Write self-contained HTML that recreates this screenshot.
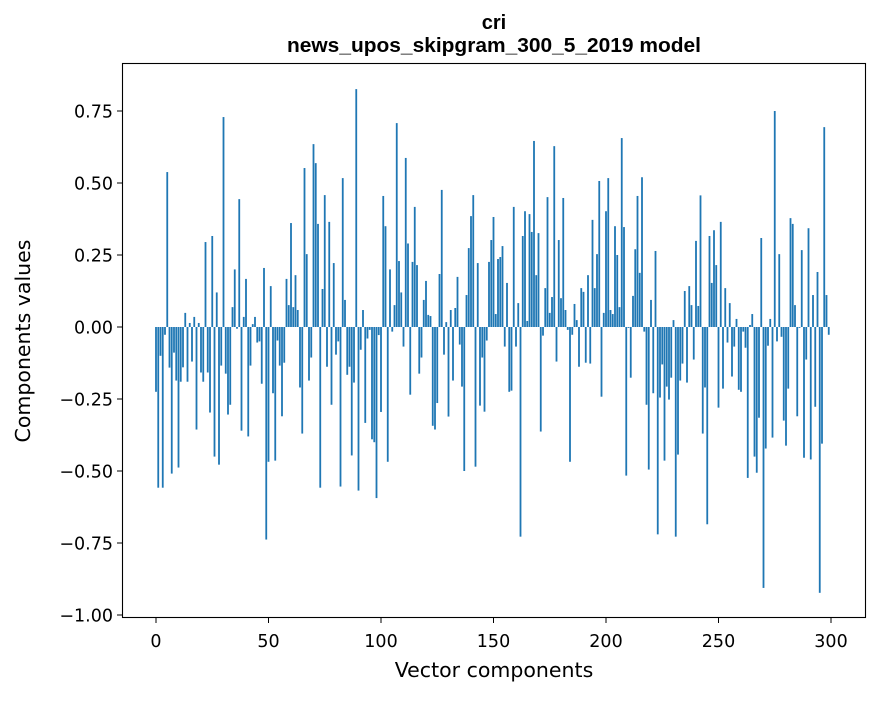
<!DOCTYPE html>
<html><head><meta charset="utf-8"><style>
body{margin:0;background:#fff;width:880px;height:696px;overflow:hidden}
svg text{font-family:"DejaVu Sans","Liberation Sans",sans-serif;fill:#000}
svg text.title{font-family:"Liberation Sans","DejaVu Sans",sans-serif;font-weight:bold}
</style></head><body>
<svg id="chart" width="880" height="696" viewBox="0 0 880 696" xmlns="http://www.w3.org/2000/svg">
<text class="title" x="494" y="29" text-anchor="middle" font-size="20">cri</text>
<text class="title" x="494" y="52" text-anchor="middle" font-size="20" textLength="414" lengthAdjust="spacingAndGlyphs">news_upos_skipgram_300_5_2019 model</text>
<g id="bars"></g>
<rect x="122.5" y="63.5" width="743" height="554" fill="none" stroke="#000" stroke-width="1.1"/>
<g id="xaxis"></g>
<g id="yaxis"></g>
<text x="494" y="677" text-anchor="middle" font-size="20.5">Vector components</text>
<text transform="translate(30,341) rotate(-90)" text-anchor="middle" font-size="20.5">Components values</text>
</svg>
<script>
const values=[-0.225,-0.558,-0.10,-0.558,-0.027,0.538,-0.141,-0.509,-0.089,-0.186,
-0.488,-0.19,-0.14,0.049,-0.19,0.014,-0.12,0.035,-0.356,0.014,
-0.158,-0.19,0.295,-0.158,-0.297,0.316,-0.45,0.12,-0.478,-0.134,
0.729,-0.162,-0.304,-0.27,0.069,0.20,-0.006,0.444,-0.36,0.035,
0.167,-0.38,-0.134,0.01,0.035,-0.054,-0.05,-0.197,0.205,-0.738,
-0.468,0.142,-0.23,-0.464,-0.047,-0.134,-0.31,-0.124,0.167,0.076,
0.361,0.069,0.18,0.059,-0.21,-0.37,0.552,0.253,-0.186,-0.106,
0.635,0.569,0.358,-0.558,0.132,0.458,-0.138,0.365,-0.27,0.222,
-0.096,-0.05,-0.554,0.517,0.094,-0.166,-0.138,-0.446,-0.193,0.826,
-0.568,-0.079,0.059,-0.333,-0.04,-0.01,-0.39,-0.40,-0.594,-0.028,
-0.295,0.455,0.35,-0.468,0.20,-0.016,0.076,0.708,0.229,0.12,
-0.068,0.587,0.29,-0.235,0.226,0.417,0.215,-0.162,-0.106,0.094,
0.16,0.042,0.038,-0.343,-0.356,-0.264,0.184,0.476,-0.096,0.017,
-0.311,0.059,-0.186,0.066,0.174,-0.061,-0.207,-0.5,0.111,0.274,
0.385,0.458,-0.485,0.222,-0.273,-0.106,-0.294,-0.047,0.226,0.302,
0.382,0.045,0.236,0.243,0.281,-0.068,0.153,-0.225,-0.221,0.417,
-0.068,0.083,-0.728,0.316,0.402,0.021,0.392,0.33,0.646,0.18,
0.326,-0.363,-0.03,0.135,0.451,0.049,0.104,0.628,-0.12,0.302,
0.10,0.448,0.059,-0.01,-0.468,-0.027,0.08,0.024,-0.138,0.135,
0.122,-0.124,0.18,-0.127,0.372,0.135,0.253,0.507,-0.242,0.049,
0.402,0.517,0.059,0.045,0.35,0.25,0.069,0.656,0.347,-0.516,
-0.003,-0.176,0.108,0.27,0.455,0.188,0.52,-0.016,-0.27,-0.495,
0.094,-0.23,0.264,-0.72,-0.245,-0.13,-0.464,-0.207,-0.252,-0.176,
0.024,-0.728,-0.443,-0.186,-0.127,0.125,-0.193,0.142,0.076,-0.113,
0.299,0.073,0.457,-0.37,-0.21,-0.685,0.316,0.153,0.336,0.215,
-0.28,0.365,-0.214,0.135,-0.054,0.083,-0.172,-0.068,0.028,-0.218,
-0.225,-0.016,-0.072,-0.524,0.007,0.045,-0.45,-0.506,-0.315,0.309,
-0.906,-0.422,-0.065,0.028,-0.384,0.75,-0.05,0.253,-0.034,-0.325,
-0.412,-0.214,0.378,0.358,0.076,-0.31,-0.003,0.267,-0.454,-0.113,
0.343,-0.46,0.111,-0.277,0.191,-0.923,-0.405,0.694,0.111,-0.027];
const xTicks=[0,50,100,150,200,250,300];
const yTicks=[-1.0,-0.75,-0.5,-0.25,0,0.25,0.5,0.75];
const yTickLabels=["\u22121.00","\u22120.75","\u22120.50","\u22120.25","0.00","0.25","0.50","0.75"];
const NS='http://www.w3.org/2000/svg';
const xs=v=>156+2.25*v;
const ys=v=>327-288*v;
const bars=document.getElementById('bars');
values.forEach((v,i)=>{
  const r=document.createElementNS(NS,'rect');
  
  
  const y0=Math.min(ys(v),ys(0));
  r.setAttribute('x',xs(i-0.4));
  r.setAttribute('width',2.25*0.8);
  r.setAttribute('y',y0);
  r.setAttribute('height',Math.abs(ys(v)-ys(0)));
  r.setAttribute('fill','#1f77b4');
  bars.appendChild(r);
});
const xa=document.getElementById('xaxis');
xTicks.forEach(t=>{
  const l=document.createElementNS(NS,'line');
  
  
  l.setAttribute('x1',xs(t));l.setAttribute('x2',xs(t));
  l.setAttribute('y1',618);l.setAttribute('y2',623);
  l.setAttribute('stroke','#000');
  xa.appendChild(l);
  const tx=document.createElementNS(NS,'text');
  
  
  tx.setAttribute('x',xs(t));tx.setAttribute('y',647);
  tx.setAttribute('text-anchor','middle');tx.setAttribute('font-size','17.5');
  tx.textContent=String(t);
  xa.appendChild(tx);
});
const ya=document.getElementById('yaxis');
yTicks.forEach((t,i)=>{
  const l=document.createElementNS(NS,'line');
  
  
  l.setAttribute('x1',117);l.setAttribute('x2',122);
  l.setAttribute('y1',ys(t));l.setAttribute('y2',ys(t));
  l.setAttribute('stroke','#000');
  ya.appendChild(l);
  const tx=document.createElementNS(NS,'text');
  
  
  tx.setAttribute('x',113);tx.setAttribute('y',ys(t)+6.5);
  tx.setAttribute('text-anchor','end');tx.setAttribute('font-size','17.5');
  tx.textContent=yTickLabels[i];
  ya.appendChild(tx);
});
</script>
</body></html>
